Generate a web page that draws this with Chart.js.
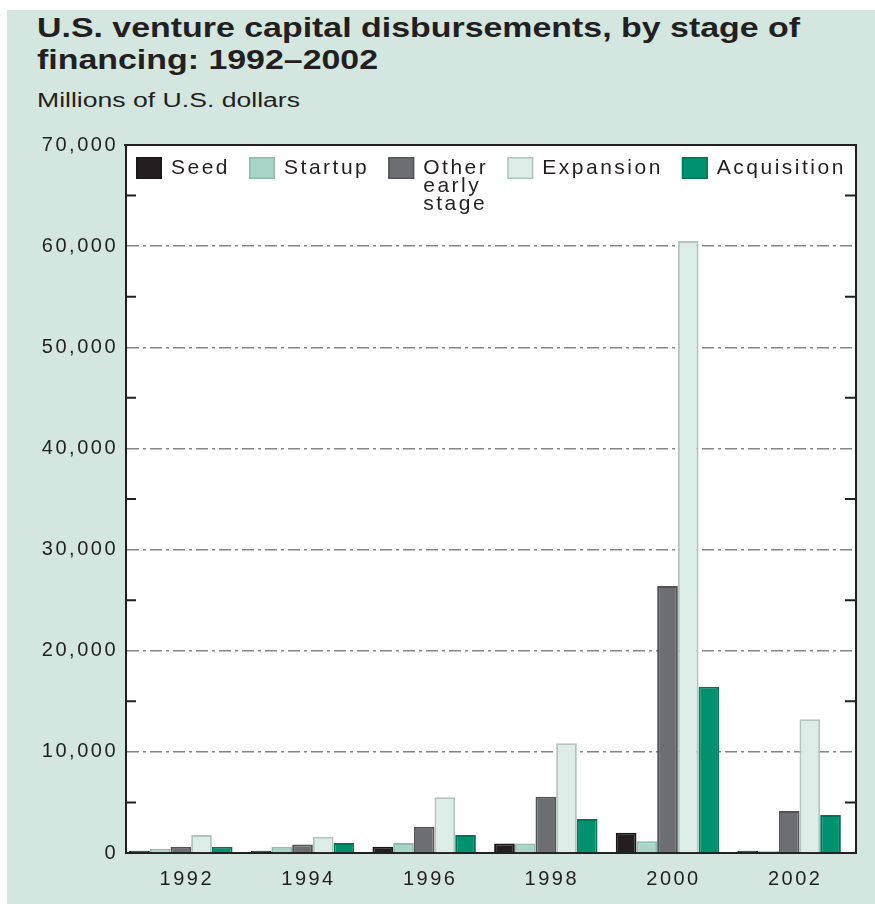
<!DOCTYPE html>
<html>
<head>
<meta charset="utf-8">
<script src="https://cdn.jsdelivr.net/npm/chart.js@4.4.1/dist/chart.umd.min.js"></script>
<style>
  html, body { margin: 0; padding: 0; background: #fff; }
  body { width: 875px; height: 904px; position: relative; overflow: hidden;
         font-family: "Liberation Sans", Arial, sans-serif; color: #231f20; }
  #panel { position: absolute; left: 7px; top: 10px; right: 0; bottom: 0; background: #d3e7e0; }
  .txt { position: absolute; left: 37px; white-space: nowrap; transform-origin: 0 0; }
  #title { top: 12px; font-size: 27px; font-weight: bold; line-height: 32px; }
  #sub { top: 88px; font-size: 20px; line-height: 24px; }
  #wrap { position: absolute; left: 0; top: 0; width: 875px; height: 904px; }
</style>
</head>
<body>
<div id="panel"></div>
<div id="title" class="txt"><span id="t1">U.S. venture capital disbursements, by stage of</span><br>financing: 1992–2002</div>
<div id="sub" class="txt"><span id="s1">Millions of U.S. dollars</span></div>
<div id="wrap"><canvas id="chart" width="875" height="904"></canvas></div>
<script>
const years = ['1992', '1994', '1996', '1998', '2000', '2002'];
const seed = [230, 230, 620, 950, 2000, 230];
const startup = [400, 620, 990, 950, 1150, 230];
const otherEarly = [620, 850, 2600, 5570, 26400, 4150];
const expansion = [1780, 1610, 5500, 10850, 60500, 13220];
const acquisition = [620, 990, 1780, 3360, 16440, 3760];

const legendLabels = [['Seed'], ['Startup'], ['Other', 'early', 'stage'], ['Expansion'], ['Acquisition']];
const yMax = 70000;
const yStep = 10000;

// stretch the heading text the way the original is stretched
function stretch(id, spanId, target) {
  const el = document.getElementById(id);
  const w = document.getElementById(spanId).getBoundingClientRect().width;
  el.style.transform = 'scaleX(' + (target / w) + ')';
}
stretch('title', 't1', 763);
stretch('sub', 's1', 263);

const ink = '#231f20';
const font = '"Liberation Sans", Arial, sans-serif';

const plotPlugin = {
  id: 'plotStuff',
  beforeDraw(chart) {
    const {ctx, chartArea: a} = chart;
    ctx.letterSpacing = '2.5px';
    ctx.save();
    ctx.fillStyle = '#fff';
    ctx.fillRect(a.left, a.top, a.right - a.left, a.bottom - a.top);
    ctx.restore();
  },
  // bars in the original sit a little left of the category centres
  beforeDatasetsDraw(chart) {
    chart.ctx.save();
    chart.ctx.translate(-6, 0);
  },
  afterDatasetsDraw(chart) {
    chart.ctx.restore();
  },
  afterDraw(chart) {
    const {ctx, chartArea: a, scales} = chart;
    ctx.save();
    ctx.strokeStyle = ink;
    ctx.lineWidth = 2;
    ctx.beginPath();
    ctx.moveTo(a.left - 2, a.top);
    ctx.lineTo(a.right, a.top);
    ctx.moveTo(a.right, a.top - 1);
    ctx.lineTo(a.right, a.bottom + 1);
    // minor ticks halfway between gridlines, both sides
    for (let v = yStep / 2; v < yMax; v += yStep) {
      const y = scales.y.getPixelForValue(v);
      ctx.moveTo(a.left, y); ctx.lineTo(a.left + 10, y);
      ctx.moveTo(a.right - 11, y); ctx.lineTo(a.right, y);
    }
    ctx.stroke();

    // legend
    ctx.font = '21px ' + font;
    ctx.letterSpacing = '2.5px';
    ctx.textBaseline = 'alphabetic';
    ctx.textAlign = 'left';
    let x = a.left + 10;
    const top = a.top + 12;
    chart.data.datasets.forEach((ds, i) => {
      ctx.fillStyle = ds.backgroundColor;
      ctx.fillRect(x, top, 26, 22);
      ctx.strokeStyle = ds.borderColor;
      ctx.lineWidth = 1.5;
      ctx.strokeRect(x + 0.75, top + 0.75, 24.5, 20.5);
      const tx = x + 35;
      let w = 0;
      ctx.fillStyle = ink;
      legendLabels[i].forEach((line, j) => {
        ctx.fillText(line, tx, top + 17 + j * 18);
        w = Math.max(w, ctx.measureText(line).width);
      });
      x = tx + w + 19;
    });
    ctx.restore();
  }
};

function bar(label, data, fill, edge) {
  return {
    label: label,
    data: data,
    backgroundColor: fill,
    borderColor: edge,
    borderWidth: 2,
    borderSkipped: 'bottom',
    categoryPercentage: 0.85,
    barPercentage: 1.0
  };
}

new Chart(document.getElementById('chart'), {
  type: 'bar',
  data: {
    labels: years,
    datasets: [
      bar('Seed', seed, '#231f20', '#1a1718'),
      bar('Startup', startup, '#a8d5c7', '#8dbcae'),
      bar('Other early stage', otherEarly, '#6d6e72', '#525357'),
      bar('Expansion', expansion, '#dcede7', '#b2c4be'),
      bar('Acquisition', acquisition, '#00916f', '#007658')
    ]
  },
  options: {
    responsive: false,
    maintainAspectRatio: false,
    animation: false,
    layout: { padding: { top: 145, right: 19, bottom: 0, left: 0 } },
    plugins: {
      legend: { display: false },
      tooltip: { enabled: false },
      title: { display: false }
    },
    scales: {
      x: {
        grid: { display: false, drawTicks: false },
        border: { display: true, color: ink, width: 2 },
        ticks: {
          color: ink,
          font: { family: font, size: 20 },
          padding: 14,
          maxRotation: 0,
          autoSkip: false
        },
        afterFit(s) { s.height = 51; }
      },
      y: {
        min: 0,
        max: yMax,
        grid: {
          drawTicks: false,
          lineWidth: 1.5,
          color: c => (c.tick && (c.tick.value === 0 || c.tick.value === yMax)) ? 'rgba(0,0,0,0)' : '#858585'
        },
        border: { display: true, color: ink, width: 2, dash: [12, 4, 3, 4] },
        ticks: {
          stepSize: yStep,
          color: ink,
          font: { family: font, size: 20 },
          padding: 8,
          callback: v => v.toLocaleString('en-US')
        },
        afterFit(s) { s.width = 126; }
      }
    }
  },
  plugins: [plotPlugin]
});
</script>
</body>
</html>
